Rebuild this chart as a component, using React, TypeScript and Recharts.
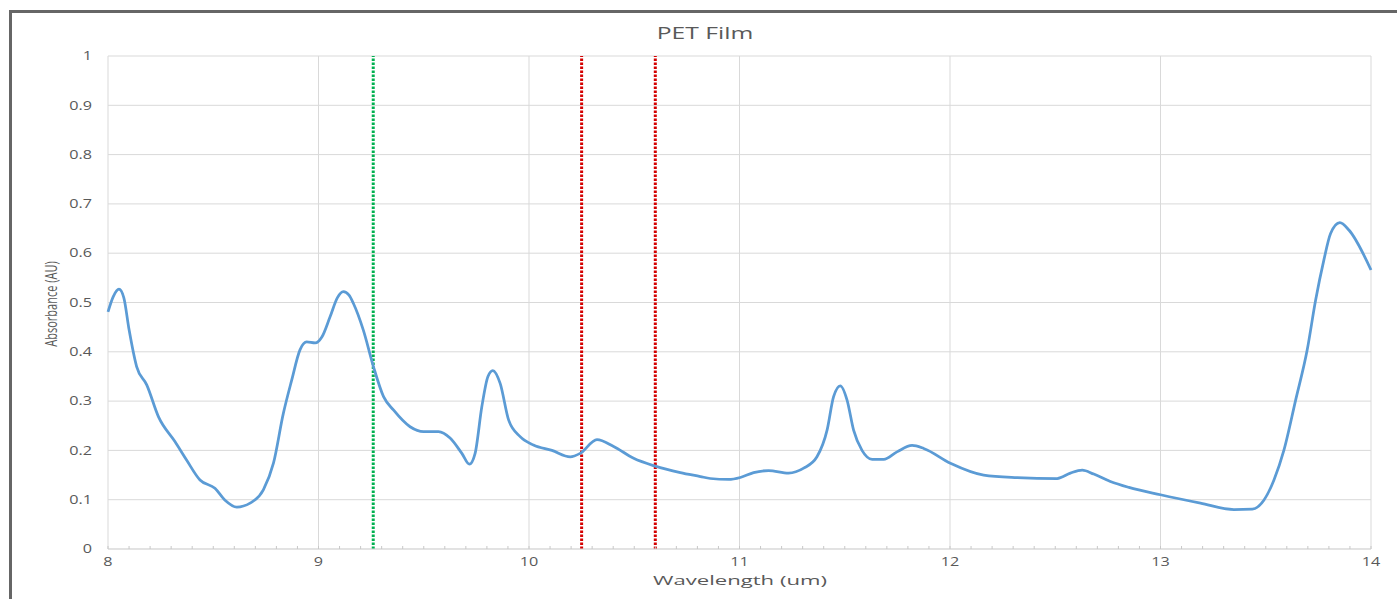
import {
	LineChart,
	Line,
	XAxis,
	YAxis,
	CartesianGrid,
	ReferenceLine,
} from 'recharts';

// Wavelength (um) and absorbance
const wavelength = [
	8.0, 8.025, 8.052, 8.075, 8.1, 8.136, 8.184, 8.24, 8.318, 8.374, 8.437, 8.508,
	8.556, 8.612, 8.675, 8.738, 8.786, 8.833, 8.873, 8.912, 8.944, 8.984, 9.016,
	9.055, 9.09, 9.118, 9.145, 9.166, 9.213, 9.261, 9.309, 9.356, 9.435, 9.499,
	9.57, 9.625, 9.681, 9.717, 9.744, 9.776, 9.805, 9.828, 9.863, 9.903, 9.958,
	10.021, 10.109, 10.196, 10.243, 10.323, 10.402, 10.497, 10.6, 10.719, 10.814,
	10.861, 10.948, 11.004, 11.067, 11.138, 11.233, 11.305, 11.368, 11.416,
	11.447, 11.479, 11.511, 11.542, 11.582, 11.63, 11.685, 11.748, 11.82, 11.875,
	12.002, 12.16, 12.319, 12.509, 12.572, 12.628, 12.683, 12.762, 12.85, 13.0,
	13.19, 13.349, 13.436, 13.491, 13.539, 13.586, 13.642, 13.697, 13.737,
	13.776, 13.808, 13.852, 13.895, 14.0,
];

const absorbance = [
	0.481, 0.512, 0.527, 0.51, 0.445, 0.37, 0.333, 0.268, 0.218, 0.18, 0.14,
	0.123, 0.099, 0.085, 0.093, 0.12, 0.174, 0.275, 0.343, 0.404, 0.42, 0.418,
	0.43, 0.471, 0.51, 0.522, 0.515, 0.498, 0.444, 0.37, 0.309, 0.282, 0.248,
	0.238, 0.238, 0.225, 0.194, 0.172, 0.194, 0.289, 0.35, 0.362, 0.336, 0.262,
	0.228, 0.211, 0.2, 0.187, 0.194, 0.222, 0.208, 0.184, 0.168, 0.155, 0.147,
	0.143, 0.141, 0.145, 0.155, 0.159, 0.154, 0.164, 0.187, 0.241, 0.309, 0.331,
	0.302, 0.241, 0.2, 0.182, 0.182, 0.197, 0.21, 0.204, 0.174, 0.15, 0.145,
	0.143, 0.154, 0.16, 0.152, 0.137, 0.125, 0.11, 0.093, 0.08, 0.081, 0.099,
	0.14, 0.2, 0.302, 0.404, 0.505, 0.586, 0.64, 0.662, 0.647, 0.566,
];

const xTicks = [8, 9, 10, 11, 12, 13, 14];
const yTicks = [0, 0.1, 0.2, 0.3, 0.4, 0.5, 0.6, 0.7, 0.8, 0.9, 1];
const minorTicks = Array.from({ length: 61 }, (_, i) => 8 + i / 10);

const greenMarker = 9.26;
const redMarkers = [10.25, 10.6];

const data = wavelength.map((w, i) => ({ w, a: absorbance[i] }));

const FONT = '"Open Sans", sans-serif';
const TEXT = '#595959';
const STRETCH = 1.35;

const XTick = (props: any) => {
	const { x, y, payload } = props;
	return (
		<text
			transform={`translate(${x},${y}) scale(${STRETCH},1)`}
			textAnchor='middle'
			dy='0.71em'
			fontSize={12}
			fontFamily={FONT}
			fill={TEXT}>
			{payload.value}
		</text>
	);
};

const YTick = (props: any) => {
	const { x, y, payload } = props;
	return (
		<text
			transform={`translate(${x},${y}) scale(${STRETCH},1)`}
			textAnchor='end'
			dy='0.355em'
			fontSize={12}
			fontFamily={FONT}
			fill={TEXT}>
			{payload.value}
		</text>
	);
};

export default function App() {
	return (
		<div
			style={{
				position: 'absolute',
				left: 0,
				top: 0,
				width: 1397,
				height: 599,
				background: '#fff',
				overflow: 'hidden',
			}}>
			{/* frame */}
			<div
				style={{
					position: 'absolute',
					left: 9,
					top: 10,
					width: 1400,
					height: 600,
					border: '3px solid #666',
					boxSizing: 'border-box',
				}}
			/>
			<div style={{ position: 'absolute', left: 0, top: 0 }}>
				<LineChart
					width={1397}
					height={599}
					data={data}
					margin={{ top: 56, right: 26, left: 48, bottom: 20 }}>
					<CartesianGrid stroke='#d9d9d9' strokeWidth={1} />
					<XAxis
						dataKey='w'
						type='number'
						domain={[8, 14]}
						ticks={xTicks}
						height={30}
						axisLine={{ stroke: '#d9d9d9' }}
						tickLine={false}
						tickMargin={2}
						tick={<XTick />}
					/>
					<XAxis
						xAxisId='minor'
						dataKey='w'
						type='number'
						domain={[8, 14]}
						ticks={minorTicks}
						mirror
						axisLine={false}
						tickSize={3}
						tickLine={{ stroke: '#c8c8c8' }}
						tickFormatter={() => ''}
					/>
					<YAxis
						type='number'
						domain={[0, 1]}
						ticks={yTicks}
						width={60}
						axisLine={false}
						tickLine={false}
						tickMargin={10}
						tick={<YTick />}
					/>
					<ReferenceLine
						x={greenMarker}
						stroke='#00b050'
						strokeWidth={3}
						strokeDasharray='2.5 1.5'
					/>
					{redMarkers.map((m) => (
						<ReferenceLine
							key={m}
							x={m}
							stroke='#d40000'
							strokeWidth={3}
							strokeDasharray='2.5 1.5'
						/>
					))}
					<Line
						type='monotone'
						dataKey='a'
						stroke='#5b9bd5'
						strokeWidth={2.75}
						dot={false}
						isAnimationActive={false}
					/>
				</LineChart>
			</div>
			<div
				style={{
					position: 'absolute',
					left: 705,
					top: 32,
					transform: `translate(-50%,-50%) scale(1.45,1)`,
					fontFamily: FONT,
					fontSize: 17,
					color: TEXT,
					whiteSpace: 'nowrap',
				}}>
				PET Film
			</div>
			<div
				style={{
					position: 'absolute',
					left: 740,
					top: 580,
					transform: `translate(-50%,-50%) scale(1.7,1)`,
					fontFamily: FONT,
					fontSize: 13,
					color: TEXT,
					whiteSpace: 'nowrap',
				}}>
				Wavelength (um)
			</div>
			<div
				style={{
					position: 'absolute',
					left: 50,
					top: 304,
					transform: `translate(-50%,-50%) rotate(-90deg) scale(1,1.45)`,
					fontFamily: FONT,
					fontSize: 11,
					color: TEXT,
					whiteSpace: 'nowrap',
				}}>
				Absorbance (AU)
			</div>
		</div>
	);
}
